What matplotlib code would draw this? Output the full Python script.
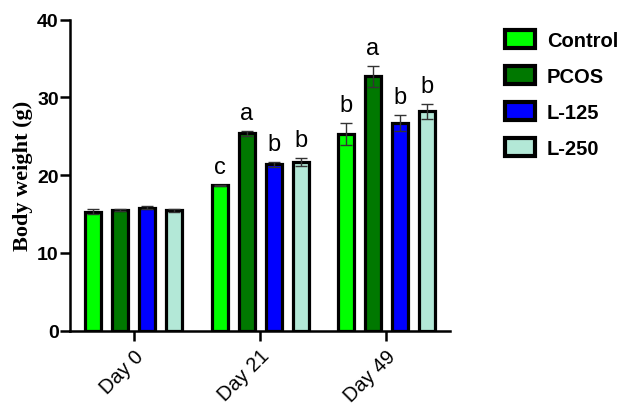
import numpy as np
import matplotlib
matplotlib.use('Agg')
from matplotlib import pyplot as plt

days = ['Day 0', 'Day 21', 'Day 49']
groups = ['Control', 'PCOS', 'L-125', 'L-250']
colors = ['#00FF00', '#007800', '#0000FF', '#B3E8D7']

# mean body weight per group (rows) and day (columns)
means = [[15.3, 18.7, 25.3],
         [15.5, 25.4, 32.7],
         [15.8, 21.4, 26.7],
         [15.5, 21.7, 28.2]]
errs = [[0.3, 0.05, 1.4],
        [0.1, 0.3, 1.4],
        [0.2, 0.3, 1.0],
        [0.2, 0.5, 1.0]]
letters = [['', 'c', 'b'],
           ['', 'a', 'a'],
           ['', 'b', 'b'],
           ['', 'b', 'b']]

fig = plt.figure(figsize=(6.35, 4.14), dpi=100)
ax = fig.add_axes([0.110, 0.199, 0.599, 0.751])

x = np.arange(len(days))
step = 0.214
width = 0.127
for i, g in enumerate(groups):
    pos = x + (i - 1.5) * step
    ax.bar(pos, means[i], width, color=colors[i], edgecolor='black',
           linewidth=2.3, label=g, zorder=2)
    ax.errorbar(pos, means[i], yerr=errs[i], fmt='none', ecolor='#333333',
                elinewidth=1.0, capsize=4, capthick=1.0, zorder=3)
    for j in range(len(days)):
        if letters[i][j]:
            ax.text(pos[j], means[i][j] + errs[i][j] + 0.9, letters[i][j],
                    ha='center', va='bottom', fontsize=17,
                    family='Liberation Sans')

ax.set_xlim(-0.508, 2.508)
ax.set_ylim(0, 40)
ax.set_yticks([0, 10, 20, 30, 40])
ax.set_xticks(x)
ax.set_xticklabels(days, rotation=45, ha='right', rotation_mode='anchor',
                   fontsize=14.5, family='Liberation Sans')
for lab in ax.get_xticklabels():
    lab.set_x(lab.get_position()[0])
ax.tick_params(axis='x', pad=4)
for lab in ax.get_yticklabels():
    lab.set_family('Liberation Sans')
    lab.set_fontweight('bold')
    lab.set_fontsize(14)
ax.set_ylabel('Body weight (g)', family='Liberation Serif', fontweight='bold',
              fontsize=16, labelpad=3)

for s in ['top', 'right']:
    ax.spines[s].set_visible(False)
for s in ['left', 'bottom']:
    ax.spines[s].set_linewidth(1.8)
ax.tick_params(axis='both', width=1.8, length=7)
ax.tick_params(axis='y', pad=1)

leg = fig.legend(loc='upper left', bbox_to_anchor=(0.795, 0.925), frameon=False,
                 prop={'family': 'Liberation Sans', 'weight': 'bold', 'size': 14.5},
                 handlelength=1.5, handleheight=1.0, labelspacing=0.8,
                 handletextpad=0.6, borderpad=0, borderaxespad=0)
for h in leg.legend_handles:
    h.set_linewidth(3.0)

fig.savefig('out.png', dpi=100)
